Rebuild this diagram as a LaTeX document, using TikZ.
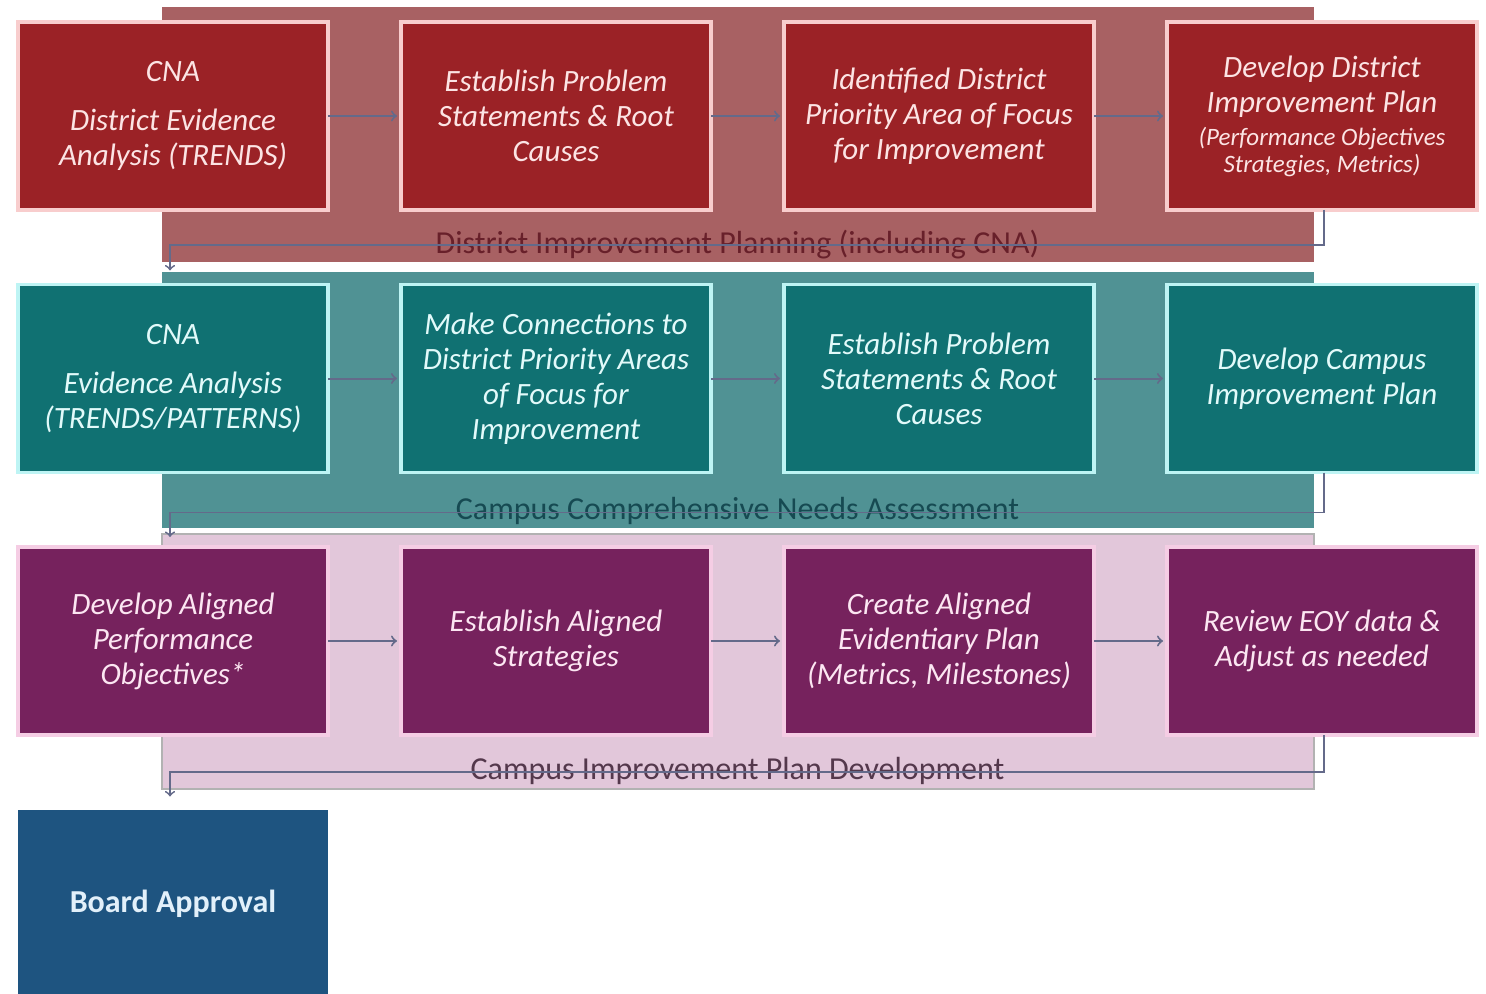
\documentclass[tikz,border=0pt]{standalone}
\usepackage{fontspec}
\setmainfont{Carlito}
\usepackage{tikz}
\usetikzlibrary{positioning, calc, backgrounds, arrows}
\definecolor{distred}{RGB}{155,34,38}
\definecolor{distband}{RGB}{168,97,99}
\definecolor{distline}{RGB}{248,205,205}
\definecolor{disttext}{RGB}{252,228,228}
\definecolor{distlabel}{RGB}{104,32,42}
\definecolor{campteal}{RGB}{16,113,114}
\definecolor{campband}{RGB}{80,146,148}
\definecolor{campline}{RGB}{190,244,244}
\definecolor{camptext}{RGB}{226,250,250}
\definecolor{camplabel}{RGB}{22,74,82}
\definecolor{planpurple}{RGB}{118,34,93}
\definecolor{planband}{RGB}{226,199,218}
\definecolor{planline}{RGB}{245,205,228}
\definecolor{plantext}{RGB}{252,230,242}
\definecolor{planlabel}{RGB}{84,56,76}
\definecolor{boardblue}{RGB}{30,84,128}
\definecolor{boardtext}{RGB}{226,240,250}
\definecolor{linkgray}{RGB}{100,106,138}
\tikzstyle{stepbox} = [rectangle, minimum width=155pt, minimum height=94pt, align=center, text centered, line width=1.6pt, outer sep=0pt, font=\itshape\fontsize{15.5}{17.5}\selectfont]
\tikzstyle{district} = [stepbox, fill=distred, draw=distline, text=disttext]
\tikzstyle{campus} = [stepbox, fill=campteal, draw=campline, text=camptext]
\tikzstyle{plan} = [stepbox, fill=planpurple, draw=planline, text=plantext]
\tikzstyle{board} = [stepbox, fill=boardblue, text=boardtext, font=\bfseries\fontsize{16}{18}\selectfont]
\tikzstyle{bandlabel} = [font=\fontsize{16}{18}\selectfont, inner sep=0pt]
\tikzstyle{arrow} = [->, >=to, draw=linkgray, line width=1pt, shorten >=2pt]
\tikzstyle{back} = [->, >=to, draw=linkgray, line width=0.9pt]
\newcommand{\smalltext}{\fontsize{12.5}{13.5}\selectfont}

\begin{document}
\begin{tikzpicture}
\useasboundingbox (0,0) rectangle (743pt,-497pt);
% row 1: district planning
\node (r1a) [district] at (86.5pt,-58pt) {CNA\\[7pt]District Evidence\\Analysis (TRENDS)};
\node (r1b) [district, right=36.5pt of r1a] {Establish Problem\\Statements \& Root\\Causes};
\node (r1c) [district, right=36.5pt of r1b] {Identified District\\Priority Area of Focus\\for Improvement};
\node (r1d) [district, right=36.5pt of r1c] {Develop District\\Improvement Plan\\[-1pt]{\smalltext (Performance Objectives}\\[-4pt]{\smalltext Strategies, Metrics)}};
% row 2: campus needs assessment
\node (r2a) [campus, below=37.25pt of r1a] {CNA\\[7pt]Evidence Analysis\\(TRENDS/PATTERNS)};
\node (r2b) [campus, right=36.5pt of r2a] {Make Connections to\\District Priority Areas\\of Focus for\\Improvement};
\node (r2c) [campus, right=36.5pt of r2b] {Establish Problem\\Statements \& Root\\Causes};
\node (r2d) [campus, right=36.5pt of r2c] {Develop Campus\\Improvement Plan};
% row 3: campus improvement plan
\node (r3a) [plan, below=37.25pt of r2a] {Develop Aligned\\Performance\\Objectives*};
\node (r3b) [plan, right=36.5pt of r3a] {Establish Aligned\\Strategies};
\node (r3c) [plan, right=36.5pt of r3b] {Create Aligned\\Evidentiary Plan\\(Metrics, Milestones)};
\node (r3d) [plan, right=36.5pt of r3c] {Review EOY data \&\\Adjust as needed};
% board
\node (brd) [board, below=37.25pt of r3a] {Board Approval};

% bands behind the rows
\begin{scope}[on background layer]
\fill [distband] ([xshift=72pt,yshift=7.5pt]r1a.north west) rectangle ([xshift=73.5pt,yshift=-26pt]r1d.south west);
\fill [campband] ([xshift=72pt,yshift=6pt]r2a.north west) rectangle ([xshift=73.5pt,yshift=-27.5pt]r2d.south west);
\filldraw [fill=planband, draw=gray!60, line width=0.6pt] ([xshift=72pt,yshift=6.5pt]r3a.north west) rectangle ([xshift=73.5pt,yshift=-27pt]r3d.south west);
\end{scope}

% band labels
\node (lab1) [bandlabel, text=distlabel] at ([xshift=-5pt,yshift=-17.5pt]$(r1b.south)!0.5!(r1c.south)$) {District Improvement Planning (including CNA)};
\node (lab2) [bandlabel, text=camplabel] at ([xshift=-5pt,yshift=-19pt]$(r2b.south)!0.5!(r2c.south)$) {Campus Comprehensive Needs Assessment};
\node (lab3) [bandlabel, text=planlabel] at ([xshift=-5pt,yshift=-18pt]$(r3b.south)!0.5!(r3c.south)$) {Campus Improvement Plan Development};

% arrow ends of the return lines
\coordinate (in2) at ([xshift=76pt,yshift=7pt]r2a.north west);
\coordinate (in3) at ([xshift=76pt,yshift=5pt]r3a.north west);
\coordinate (in4) at ([xshift=76pt,yshift=6.5pt]brd.north west);

\draw [arrow] (r1a) -- (r1b);
\draw [arrow] (r1b) -- (r1c);
\draw [arrow] (r1c) -- (r1d);
\draw [arrow] (r2a) -- (r2b);
\draw [arrow] (r2b) -- (r2c);
\draw [arrow] (r2c) -- (r2d);
\draw [arrow] (r3a) -- (r3b);
\draw [arrow] (r3b) -- (r3c);
\draw [arrow] (r3c) -- (r3d);
\draw [back] ([xshift=1pt]r1d.south) -- ++(0,-17.5pt) -| (in2);
\draw [back] ([xshift=1pt]r2d.south) -- ++(0,-20pt) -| (in3);
\draw [back] ([xshift=1pt]r3d.south) -- ++(0,-18.5pt) -| (in4);
\end{tikzpicture}
\end{document}
